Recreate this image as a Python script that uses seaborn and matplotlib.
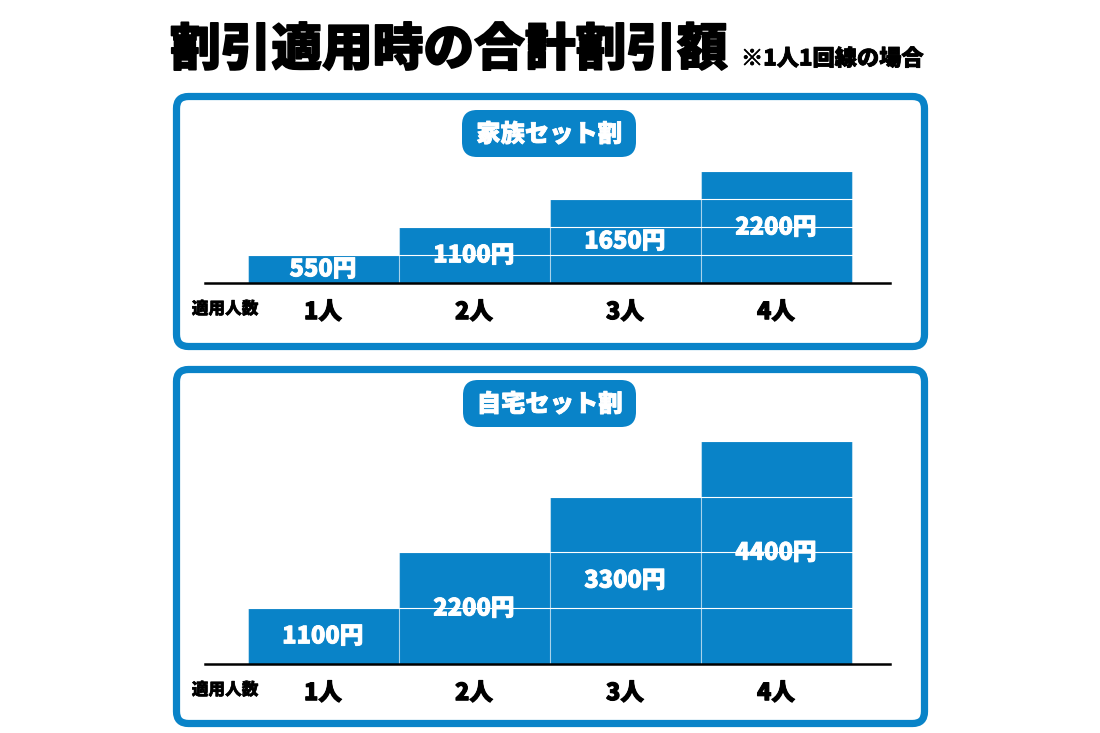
import matplotlib
matplotlib.use("Agg")
import matplotlib.pyplot as plt
import matplotlib.patheffects as pe
import seaborn as sns
import pandas as pd
from matplotlib.patches import FancyBboxPatch

# ---- data ----
people = ["1人", "2人", "3人", "4人"]
family_discount = [550, 1100, 1650, 2200]
home_discount = [1100, 2200, 3300, 4400]
title_text = "割引適用時の合計割引額"
note_text = "※1人1回線の場合"
panel_titles = ["家族セット割", "自宅セット割"]
axis_label = "適用人数"

BLUE = "#0983c8"
W, H = 1100, 733

sns.set_theme(style="white")
plt.rcParams["font.family"] = ["Noto Sans CJK JP", "DejaVu Sans"]


def heavy(color, w):
    return [pe.withStroke(linewidth=w, foreground=color)]


fig = plt.figure(figsize=(11, 7.33), dpi=100)
fig.patch.set_facecolor("white")

# background drawing layer in pixel coordinates
bg = fig.add_axes([0, 0, 1, 1])
bg.set_xlim(0, W)
bg.set_ylim(H, 0)
bg.axis("off")

# title
bg.text(170, 50, title_text, fontsize=36.5, fontweight="black", color="black",
        ha="left", va="center", path_effects=heavy("black", 1.2))
bg.text(741, 59, note_text, fontsize=16, fontweight="black", color="black",
        ha="left", va="center", path_effects=heavy("black", 0.6))

# panel frames (stroke centred on edge)
frames = [(176.5, 96.5, 924.5, 346.5), (176.5, 369.5, 924.5, 723.5)]
for (x0, y0, x1, y1) in frames:
    bg.add_patch(FancyBboxPatch((x0, y0), x1 - x0, y1 - y0,
                                boxstyle="round,pad=0,rounding_size=12",
                                linewidth=5.2, edgecolor=BLUE, facecolor="white"))

# badges
badges = [(462, 110, 636, 157), (463, 380, 636, 427)]
for (x0, y0, x1, y1), t in zip(badges, panel_titles):
    bg.add_patch(FancyBboxPatch((x0, y0), x1 - x0, y1 - y0,
                                boxstyle="round,pad=0,rounding_size=15",
                                linewidth=0, facecolor=BLUE))
    bg.text((x0 + x1) / 2, (y0 + y1) / 2 + 1, t, fontsize=17.5, fontweight="black",
            color="white", ha="center", va="center",
            path_effects=heavy("white", 0.6))

PX_PER_YEN = 0.0507
AX_LEFT, AX_RIGHT = 205, 890
CENTER0, STEP = 323, 151


def make_axes(baseline_px, ymax):
    h = ymax * PX_PER_YEN
    ax = fig.add_axes([AX_LEFT / W, (H - baseline_px) / H,
                       (AX_RIGHT - AX_LEFT) / W, h / H])
    return ax


panels = [(283, 2400, family_discount), (664, 4800, home_discount)]
for baseline, ymax, values in panels:
    ax = make_axes(baseline, ymax)
    df = pd.DataFrame({"people": people, "discount": values})
    sns.barplot(data=df, x="people", y="discount", color=BLUE, saturation=1,
                width=1.0, edgecolor=(1, 1, 1, 0.45), linewidth=0.8, ax=ax)
    ax.set_xlim((AX_LEFT - CENTER0) / STEP, (AX_RIGHT - CENTER0) / STEP)
    ax.set_ylim(0, ymax)
    ax.set_facecolor("none")
    ax.set_yticks(values)
    ax.set_yticklabels([])
    ax.yaxis.grid(True, color=(1, 1, 1, 0.45), linewidth=0.8)
    ax.set_axisbelow(False)
    ax.set_xlabel("")
    ax.set_ylabel("")
    for s in ["top", "right", "left"]:
        ax.spines[s].set_visible(False)
    ax.spines["bottom"].set_color("black")
    ax.spines["bottom"].set_linewidth(1.8)
    ax.spines["bottom"].set_zorder(5)
    ax.tick_params(axis="x", length=0, pad=12, labelsize=17)
    ax.tick_params(axis="y", length=0)
    for lbl in ax.get_xticklabels():
        lbl.set_fontweight("black")
        lbl.set_color("black")
        lbl.set_path_effects(heavy("black", 0.8))
    texts = ax.bar_label(ax.containers[0], labels=[f"{v}円" for v in values],
                         label_type="center", color="white", fontsize=17,
                         fontweight="black")
    for t in texts:
        t.set_path_effects(heavy("white", 0.7))
    bg.text(225, baseline + 26, axis_label, fontsize=12, fontweight="black",
            color="black", ha="center", va="center",
            path_effects=heavy("black", 0.4))

fig.savefig("out.png", dpi=100, facecolor="white")
